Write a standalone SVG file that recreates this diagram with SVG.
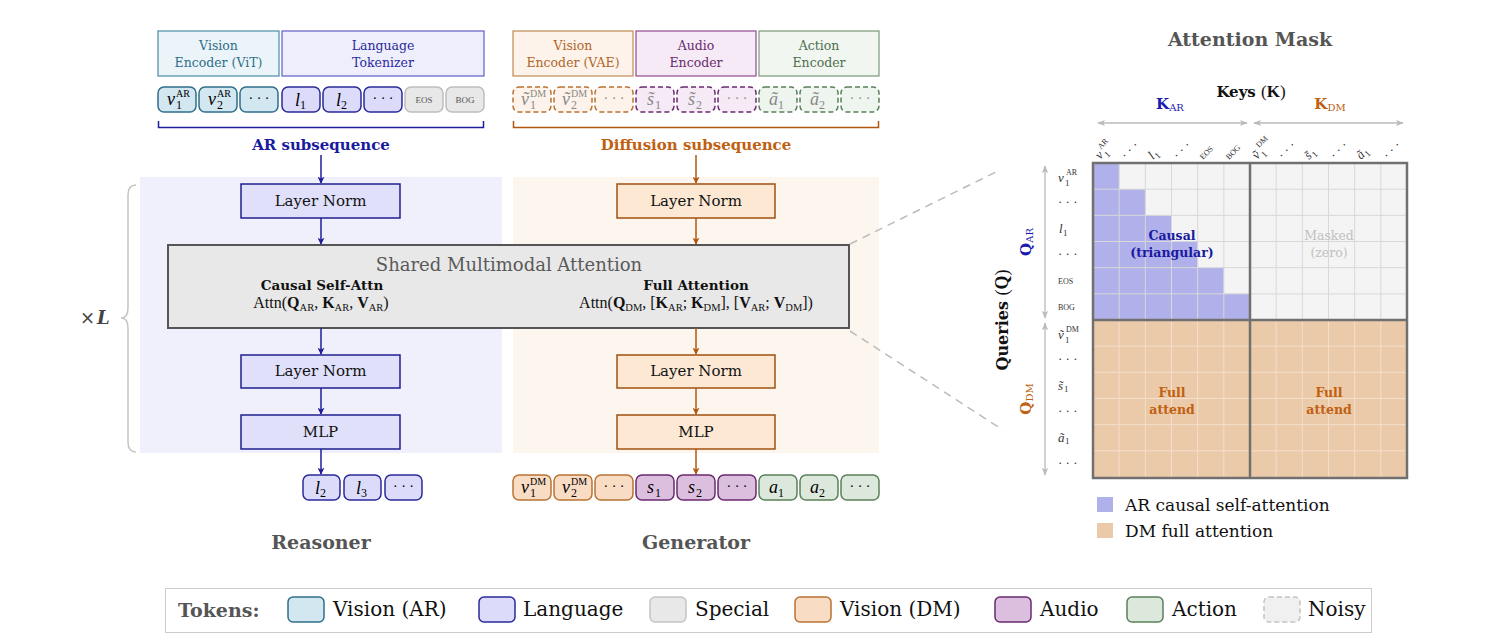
<svg xmlns="http://www.w3.org/2000/svg" width="1485" height="642" viewBox="0 0 1485 642">
<defs>
<style>
text{font-family:"DejaVu Serif","Liberation Serif",serif;}
.enc{font-size:12.5px;text-anchor:middle;}
.tk{stroke-width:1.5;}
.mi{font-family:"Liberation Serif",serif;font-style:italic;font-size:18px;}
.sup{font-family:"Liberation Serif",serif;font-size:10px;}
.sub{font-family:"Liberation Serif",serif;font-size:12px;}
.dots{font-family:"Liberation Serif",serif;font-size:14px;text-anchor:middle;}
.spec{font-family:"Liberation Serif",serif;font-size:9px;text-anchor:middle;fill:#555;}
.box{font-size:15px;text-anchor:middle;fill:#111;}
.ttl{font-size:19px;font-weight:bold;fill:#555;text-anchor:middle;}
.lg{font-size:20px;fill:#111;}
.rl{font-family:"Liberation Serif",serif;font-size:13px;fill:#333;}
.rls{font-family:"Liberation Serif",serif;font-size:8px;fill:#333;}
.rlsub{font-family:"Liberation Serif",serif;font-size:9px;fill:#333;}
.frm{font-family:"Liberation Serif",serif;font-size:16px;fill:#111;text-anchor:middle;}
.frm .s{font-size:10.5px;}
.grid{stroke:#d8d8d8;stroke-width:1;fill:none;}
.gridb{stroke:#f3dfcb;stroke-width:1;fill:none;}
</style>
<marker id="ab" viewBox="0 0 10 10" refX="9" refY="5" markerWidth="7" markerHeight="7" markerUnits="userSpaceOnUse" orient="auto"><path d="M0,0 L10,5 L0,10 L2.5,5 z" fill="#1f1f9a"/></marker>
<marker id="ao" viewBox="0 0 10 10" refX="9" refY="5" markerWidth="7" markerHeight="7" markerUnits="userSpaceOnUse" orient="auto"><path d="M0,0 L10,5 L0,10 L2.5,5 z" fill="#b0580f"/></marker>
<marker id="ag" viewBox="0 0 10 10" refX="9" refY="5" markerWidth="8" markerHeight="8" markerUnits="userSpaceOnUse" orient="auto-start-reverse"><path d="M0,1 L10,5 L0,9 L2.5,5 z" fill="#bbb"/></marker>
</defs>
<rect width="1485" height="642" fill="#fff"/>

<!-- panels -->
<g id="panels">
<rect x="140" y="177" width="362" height="276" fill="#f0f0fd"/>
<rect x="513" y="177" width="366" height="276" fill="#fdf6ee"/>
</g>

<!-- encoders -->
<g id="enc-vit"><rect x="158" y="31" width="121" height="45" fill="#ebf4f8" stroke="#4b8ca5" stroke-width="1.2"/><text class="enc" x="218.5" y="50" fill="#2f6f8a">Vision</text><text class="enc" x="218.5" y="67" fill="#2f6f8a">Encoder (ViT)</text></g>
<g id="enc-lang"><rect x="282" y="31" width="202" height="45" fill="#eeeefc" stroke="#6060c8" stroke-width="1.2"/><text class="enc" x="383" y="50" fill="#2a2a9a">Language</text><text class="enc" x="383" y="67" fill="#2a2a9a">Tokenizer</text></g>
<g id="enc-vae"><rect x="513" y="31" width="120" height="45" fill="#fdf3ea" stroke="#c08a50" stroke-width="1.2"/><text class="enc" x="573" y="50" fill="#b0662a">Vision</text><text class="enc" x="573" y="67" fill="#b0662a">Encoder (VAE)</text></g>
<g id="enc-audio"><rect x="636" y="31" width="120" height="45" fill="#f5eaf5" stroke="#904a90" stroke-width="1.2"/><text class="enc" x="696" y="50" fill="#6a2a6f">Audio</text><text class="enc" x="696" y="67" fill="#6a2a6f">Encoder</text></g>
<g id="enc-action"><rect x="759" y="31" width="120" height="45" fill="#f1f6f1" stroke="#7a9a7a" stroke-width="1.2"/><text class="enc" x="819" y="50" fill="#4f6f4f">Action</text><text class="enc" x="819" y="67" fill="#4f6f4f">Encoder</text></g>

<!-- AR input tokens -->
<g id="ar-tokens">
<rect class="tk" x="158" y="87" width="38" height="25" rx="6" fill="#d3e7f0" stroke="#2f6f8a"/>
<text class="mi" x="167" y="105">v</text><text class="sup" x="176" y="97">AR</text><text class="sub" x="176" y="109">1</text>
<rect class="tk" x="199" y="87" width="38" height="25" rx="6" fill="#d3e7f0" stroke="#2f6f8a"/>
<text class="mi" x="208" y="105">v</text><text class="sup" x="217" y="97">AR</text><text class="sub" x="217" y="109">2</text>
<rect class="tk" x="240" y="87" width="38" height="25" rx="6" fill="#d3e7f0" stroke="#2f6f8a"/>
<text class="dots" x="259" y="103">· · ·</text>
<rect class="tk" x="282" y="87" width="38" height="25" rx="6" fill="#dcdcfa" stroke="#2a2a9a"/>
<text class="mi" x="295" y="106">l</text><text class="sub" x="300" y="109">1</text>
<rect class="tk" x="323" y="87" width="38" height="25" rx="6" fill="#dcdcfa" stroke="#2a2a9a"/>
<text class="mi" x="336" y="106">l</text><text class="sub" x="341" y="109">2</text>
<rect class="tk" x="364" y="87" width="38" height="25" rx="6" fill="#dcdcfa" stroke="#2a2a9a"/>
<text class="dots" x="383" y="103">· · ·</text>
<rect class="tk" x="405" y="87" width="38" height="25" rx="6" fill="#e8e8e8" stroke="#bdbdbd"/>
<text class="spec" x="424" y="103">EOS</text>
<rect class="tk" x="446" y="87" width="38" height="25" rx="6" fill="#e8e8e8" stroke="#bdbdbd"/>
<text class="spec" x="465" y="103">BOG</text>
</g>

<!-- DM input tokens (noisy) -->
<g id="dm-tokens" stroke-dasharray="5 3">
<rect class="tk" x="513" y="87" width="38" height="25" rx="6" fill="#fdf3ea" stroke="#b87333"/>
<rect class="tk" x="554" y="87" width="38" height="25" rx="6" fill="#fdf3ea" stroke="#b87333"/>
<rect class="tk" x="595" y="87" width="38" height="25" rx="6" fill="#fdf3ea" stroke="#b87333"/>
<rect class="tk" x="636" y="87" width="38" height="25" rx="6" fill="#f5eaf5" stroke="#6a2a6f"/>
<rect class="tk" x="677" y="87" width="38" height="25" rx="6" fill="#f5eaf5" stroke="#6a2a6f"/>
<rect class="tk" x="718" y="87" width="38" height="25" rx="6" fill="#f5eaf5" stroke="#6a2a6f"/>
<rect class="tk" x="759" y="87" width="38" height="25" rx="6" fill="#eef4ee" stroke="#5a805a"/>
<rect class="tk" x="800" y="87" width="38" height="25" rx="6" fill="#eef4ee" stroke="#5a805a"/>
<rect class="tk" x="841" y="87" width="38" height="25" rx="6" fill="#eef4ee" stroke="#5a805a"/>
</g>
<g id="dm-token-labels" fill="#888">
<text class="mi" x="521" y="105">ṽ</text><text class="sup" x="530" y="97">DM</text><text class="sub" x="530" y="109">1</text>
<text class="mi" x="562" y="105">ṽ</text><text class="sup" x="571" y="97">DM</text><text class="sub" x="571" y="109">2</text>
<text class="dots" x="614" y="103">· · ·</text>
<text class="mi" x="647" y="105">s̃</text><text class="sub" x="655" y="109">1</text>
<text class="mi" x="688" y="105">s̃</text><text class="sub" x="696" y="109">2</text>
<text class="dots" x="737" y="103">· · ·</text>
<text class="mi" x="769" y="105">ã</text><text class="sub" x="778" y="109">1</text>
<text class="mi" x="810" y="105">ã</text><text class="sub" x="819" y="109">2</text>
<text class="dots" x="860" y="103">· · ·</text>
</g>

<!-- subsequence brackets -->
<g id="ar-sub">
<path d="M158.5,121 V127.5 H483.5 V121" fill="none" stroke="#1f1f9a" stroke-width="1.5"/>
<text x="321" y="150" font-size="15" font-weight="bold" fill="#1a1aa0" text-anchor="middle">AR subsequence</text>
</g>
<g id="dm-sub">
<path d="M513.5,121 V127.5 H878.5 V121" fill="none" stroke="#b0580f" stroke-width="1.5"/>
<text x="696" y="150" font-size="15" font-weight="bold" fill="#c06010" text-anchor="middle">Diffusion subsequence</text>
</g>

<!-- blocks -->
<g id="ln1-ar"><rect x="241" y="184" width="159" height="34" fill="#e0e0fa" stroke="#1f1f8f" stroke-width="1.5"/><text class="box" x="320.5" y="206">Layer Norm</text></g>
<g id="ln1-dm"><rect x="617" y="184" width="158" height="34" fill="#fde8d4" stroke="#a0500f" stroke-width="1.5"/><text class="box" x="696" y="206">Layer Norm</text></g>
<g id="ln2-ar"><rect x="241" y="355" width="159" height="33" fill="#e0e0fa" stroke="#1f1f8f" stroke-width="1.5"/><text class="box" x="320.5" y="376">Layer Norm</text></g>
<g id="ln2-dm"><rect x="617" y="355" width="158" height="33" fill="#fde8d4" stroke="#a0500f" stroke-width="1.5"/><text class="box" x="696" y="376">Layer Norm</text></g>
<g id="mlp-ar"><rect x="241" y="415" width="159" height="34" fill="#e0e0fa" stroke="#1f1f8f" stroke-width="1.5"/><text class="box" x="320.5" y="437">MLP</text></g>
<g id="mlp-dm"><rect x="617" y="415" width="158" height="34" fill="#fde8d4" stroke="#a0500f" stroke-width="1.5"/><text class="box" x="696" y="437">MLP</text></g>

<g id="shared-attn">
<rect x="168" y="245" width="681" height="83" fill="#e8e8e8" stroke="#555" stroke-width="2"/>
<text x="509" y="271" font-size="18" fill="#5a5a5a" text-anchor="middle">Shared Multimodal Attention</text>
<text x="322" y="290" font-size="13.5" font-weight="bold" fill="#111" text-anchor="middle">Causal Self-Attn</text>
<text class="frm" x="321" y="308">Attn(<tspan font-weight="bold">Q</tspan><tspan class="s" dy="3">AR</tspan><tspan dy="-3">, </tspan><tspan font-weight="bold">K</tspan><tspan class="s" dy="3">AR</tspan><tspan dy="-3">, </tspan><tspan font-weight="bold">V</tspan><tspan class="s" dy="3">AR</tspan><tspan dy="-3">)</tspan></text>
<text x="696" y="290" font-size="13.5" font-weight="bold" fill="#111" text-anchor="middle">Full Attention</text>
<text class="frm" x="696" y="308">Attn(<tspan font-weight="bold">Q</tspan><tspan class="s" dy="3">DM</tspan><tspan dy="-3">, [</tspan><tspan font-weight="bold">K</tspan><tspan class="s" dy="3">AR</tspan><tspan dy="-3">; </tspan><tspan font-weight="bold">K</tspan><tspan class="s" dy="3">DM</tspan><tspan dy="-3">], [</tspan><tspan font-weight="bold">V</tspan><tspan class="s" dy="3">AR</tspan><tspan dy="-3">; </tspan><tspan font-weight="bold">V</tspan><tspan class="s" dy="3">DM</tspan><tspan dy="-3">])</tspan></text>
</g>

<!-- output tokens -->
<g id="ar-out">
<rect class="tk" x="303" y="475" width="37" height="25" rx="6" fill="#dcdcfa" stroke="#2a2a9a"/>
<text class="mi" x="315" y="494">l</text><text class="sub" x="320" y="497">2</text>
<rect class="tk" x="344" y="475" width="37" height="25" rx="6" fill="#dcdcfa" stroke="#2a2a9a"/>
<text class="mi" x="356" y="494">l</text><text class="sub" x="361" y="497">3</text>
<rect class="tk" x="385" y="475" width="37" height="25" rx="6" fill="#dcdcfa" stroke="#2a2a9a"/>
<text class="dots" x="403.5" y="491">· · ·</text>
</g>
<g id="dm-out">
<rect class="tk" x="513" y="475" width="38" height="25" rx="6" fill="#f9dcc4" stroke="#b87333"/>
<text class="mi" x="521" y="493">v</text><text class="sup" x="530" y="485">DM</text><text class="sub" x="530" y="497">1</text>
<rect class="tk" x="554" y="475" width="38" height="25" rx="6" fill="#f9dcc4" stroke="#b87333"/>
<text class="mi" x="562" y="493">v</text><text class="sup" x="571" y="485">DM</text><text class="sub" x="571" y="497">2</text>
<rect class="tk" x="595" y="475" width="38" height="25" rx="6" fill="#f9dcc4" stroke="#b87333"/>
<text class="dots" x="614" y="491">· · ·</text>
<rect class="tk" x="636" y="475" width="38" height="25" rx="6" fill="#dcbfdf" stroke="#6a2a6f"/>
<text class="mi" x="647" y="493">s</text><text class="sub" x="655" y="497">1</text>
<rect class="tk" x="677" y="475" width="38" height="25" rx="6" fill="#dcbfdf" stroke="#6a2a6f"/>
<text class="mi" x="688" y="493">s</text><text class="sub" x="696" y="497">2</text>
<rect class="tk" x="718" y="475" width="38" height="25" rx="6" fill="#dcbfdf" stroke="#6a2a6f"/>
<text class="dots" x="737" y="491">· · ·</text>
<rect class="tk" x="759" y="475" width="38" height="25" rx="6" fill="#dce8dc" stroke="#5a805a"/>
<text class="mi" x="769" y="493">a</text><text class="sub" x="778" y="497">1</text>
<rect class="tk" x="800" y="475" width="38" height="25" rx="6" fill="#dce8dc" stroke="#5a805a"/>
<text class="mi" x="810" y="493">a</text><text class="sub" x="819" y="497">2</text>
<rect class="tk" x="841" y="475" width="38" height="25" rx="6" fill="#dce8dc" stroke="#5a805a"/>
<text class="dots" x="860" y="491">· · ·</text>
</g>

<!-- connectors -->
<g id="connectors" fill="none" stroke-width="1.5">
<g stroke="#1f1f9a" marker-end="url(#ab)">
<path d="M321,155 V183"/><path d="M321,218 V244"/><path d="M321,328 V354"/><path d="M321,388 V414"/><path d="M321,449 V474"/>
</g>
<g stroke="#b0580f" marker-end="url(#ao)">
<path d="M696,155 V183"/><path d="M696,218 V244"/><path d="M696,328 V354"/><path d="M696,388 V414"/><path d="M696,449 V474"/>
</g>
<g stroke="#bbb" stroke-dasharray="8 6">
<path d="M850,244 L1000,170"/><path d="M850,331 L1003,430"/>
</g>
</g>

<!-- repeat brace -->
<g id="repeat">
<path d="M136,185 Q128,185 128,195 V308 Q128,318 121,318 Q128,318 128,328 V442 Q128,452 136,452" fill="none" stroke="#c4c4c4" stroke-width="1.5"/>
<text x="80" y="324" font-family="Liberation Serif,serif" font-size="18" fill="#444">×<tspan font-weight="bold" font-style="italic" dx="2">L</tspan></text>
</g>

<g id="labels">
<text class="ttl" x="321" y="549">Reasoner</text>
<text class="ttl" x="696" y="549">Generator</text>
</g>

<!-- Attention mask -->
<g id="attention-mask">
<text class="ttl" x="1250" y="46">Attention Mask</text>
<text x="1251" y="97" font-size="15" fill="#111" text-anchor="middle"><tspan font-weight="bold">Keys </tspan><tspan font-family="Liberation Serif,serif" font-size="17">(</tspan><tspan font-family="Liberation Serif,serif" font-size="17" font-weight="bold">K</tspan><tspan font-family="Liberation Serif,serif" font-size="17">)</tspan></text>
<text x="1170" y="109" font-family="Liberation Serif,serif" fill="#1a1ab0" text-anchor="middle"><tspan font-size="15" font-weight="bold">K</tspan><tspan font-size="10" dy="2">AR</tspan></text>
<text x="1330" y="109" font-family="Liberation Serif,serif" fill="#c06010" text-anchor="middle"><tspan font-size="15" font-weight="bold">K</tspan><tspan font-size="10" dy="2">DM</tspan></text>
<path d="M1098,123 H1247" stroke="#bbb" stroke-width="1.3" marker-start="url(#ag)" marker-end="url(#ag)"/>
<path d="M1254,123 H1403" stroke="#bbb" stroke-width="1.3" marker-start="url(#ag)" marker-end="url(#ag)"/>
<path d="M1045,166 V318" stroke="#bbb" stroke-width="1.3" marker-start="url(#ag)" marker-end="url(#ag)"/>
<path d="M1045,323 V475" stroke="#bbb" stroke-width="1.3" marker-start="url(#ag)" marker-end="url(#ag)"/>

<text transform="translate(1008,320) rotate(-90)" font-size="16" font-weight="bold" fill="#111" text-anchor="middle">Queries <tspan font-family="Liberation Serif,serif" font-size="18" font-weight="normal">(<tspan font-weight="bold">Q</tspan>)</tspan></text>
<text transform="translate(1031,242) rotate(-90)" font-family="Liberation Serif,serif" fill="#1a1ab0" text-anchor="middle"><tspan font-size="15" font-weight="bold">Q</tspan><tspan font-size="10" dy="2">AR</tspan></text>
<text transform="translate(1031,399) rotate(-90)" font-family="Liberation Serif,serif" fill="#c06010" text-anchor="middle"><tspan font-size="15" font-weight="bold">Q</tspan><tspan font-size="10" dy="2">DM</tspan></text>

<!-- row labels -->
<text class="rl" font-style="italic" x="1058" y="182">v</text><text class="rls" x="1066" y="175">AR</text><text class="rlsub" x="1065" y="186">1</text>
<text class="rl" x="1058" y="206">· · ·</text>
<text class="rl" font-style="italic" x="1059" y="233">l</text><text class="rlsub" x="1063" y="236">1</text>
<text class="rl" x="1058" y="258">· · ·</text>
<text class="rls" x="1058" y="284">EOS</text>
<text class="rls" x="1058" y="310">BOG</text>
<text class="rl" font-style="italic" x="1058" y="339">ṽ</text><text class="rls" x="1066" y="332">DM</text><text class="rlsub" x="1065" y="343">1</text>
<text class="rl" x="1058" y="363">· · ·</text>
<text class="rl" font-style="italic" x="1058" y="390">s̃</text><text class="rlsub" x="1064" y="392">1</text>
<text class="rl" x="1058" y="415">· · ·</text>
<text class="rl" font-style="italic" x="1058" y="442">ã</text><text class="rlsub" x="1065" y="444">1</text>
<text class="rl" x="1058" y="467">· · ·</text>

<!-- column labels -->
<g transform="translate(1100,160) rotate(-45)"><text class="rl" font-style="italic" x="0" y="0">v</text><text class="rls" x="8" y="-7">AR</text><text class="rlsub" x="7" y="4">1</text></g>
<g transform="translate(1126,160) rotate(-45)"><text class="rl" x="0" y="0">· · ·</text></g>
<g transform="translate(1153,160) rotate(-45)"><text class="rl" font-style="italic" x="0" y="0">l</text><text class="rlsub" x="4" y="3">1</text></g>
<g transform="translate(1178,160) rotate(-45)"><text class="rl" x="0" y="0">· · ·</text></g>
<g transform="translate(1203,160) rotate(-45)"><text class="rls" x="0" y="0">EOS</text></g>
<g transform="translate(1229,160) rotate(-45)"><text class="rls" x="0" y="0">BOG</text></g>
<g transform="translate(1257,160) rotate(-45)"><text class="rl" font-style="italic" x="0" y="0">ṽ</text><text class="rls" x="10" y="-7">DM</text><text class="rlsub" x="7" y="4">1</text></g>
<g transform="translate(1283,160) rotate(-45)"><text class="rl" x="0" y="0">· · ·</text></g>
<g transform="translate(1309,160) rotate(-45)"><text class="rl" font-style="italic" x="0" y="0">s̃</text><text class="rlsub" x="6" y="3">1</text></g>
<g transform="translate(1335,160) rotate(-45)"><text class="rl" x="0" y="0">· · ·</text></g>
<g transform="translate(1361,160) rotate(-45)"><text class="rl" font-style="italic" x="0" y="0">ã</text><text class="rlsub" x="7" y="3">1</text></g>
<g transform="translate(1388,160) rotate(-45)"><text class="rl" x="0" y="0">· · ·</text></g>

<!-- matrix -->
<rect x="1093" y="163" width="314" height="157" fill="#f4f4f4"/>
<polygon points="1093,163 1119.17,163 1119.17,189.17 1145.33,189.17 1145.33,215.33 1171.5,215.33 1171.5,241.5 1197.67,241.5 1197.67,267.67 1223.83,267.67 1223.83,293.83 1250,293.83 1250,320 1093,320" fill="#b0b0ea"/>
<rect x="1093" y="320" width="314" height="158" fill="#ebcaa9"/>
<path class="grid" d="M1119.17,163V320M1145.33,163V320M1171.5,163V320M1197.67,163V320M1223.83,163V320M1276.17,163V320M1302.33,163V320M1328.5,163V320M1354.67,163V320M1380.83,163V320M1093,189.17H1407M1093,215.33H1407M1093,241.5H1407M1093,267.67H1407M1093,293.83H1407"/>
<path class="gridb" d="M1119.17,320V478M1145.33,320V478M1171.5,320V478M1197.67,320V478M1223.83,320V478M1276.17,320V478M1302.33,320V478M1328.5,320V478M1354.67,320V478M1380.83,320V478M1093,346.17H1407M1093,372.33H1407M1093,398.5H1407M1093,424.67H1407M1093,450.83H1407"/>
<rect x="1093" y="163" width="314" height="315" fill="none" stroke="#707070" stroke-width="2.5"/>
<path d="M1250,163V478M1093,320H1407" stroke="#707070" stroke-width="2.5"/>

<text x="1172" y="240" font-size="12.5" font-weight="bold" fill="#1a1aa0" text-anchor="middle">Causal</text>
<text x="1172" y="257" font-size="12.5" font-weight="bold" fill="#1a1aa0" text-anchor="middle">(triangular)</text>
<text x="1329" y="240" font-size="12.5" fill="#c0c0c0" text-anchor="middle">Masked</text>
<text x="1329" y="257" font-size="12.5" fill="#c0c0c0" text-anchor="middle">(zero)</text>
<text x="1172" y="397" font-size="12.5" font-weight="bold" fill="#c06010" text-anchor="middle">Full</text>
<text x="1172" y="414" font-size="12.5" font-weight="bold" fill="#c06010" text-anchor="middle">attend</text>
<text x="1329" y="397" font-size="12.5" font-weight="bold" fill="#c06010" text-anchor="middle">Full</text>
<text x="1329" y="414" font-size="12.5" font-weight="bold" fill="#c06010" text-anchor="middle">attend</text>
</g>

<g id="mask-legend">
<rect x="1097" y="497" width="16" height="15" fill="#b0b0ea"/>
<text x="1125" y="511" font-size="17" fill="#111">AR causal self-attention</text>
<rect x="1097" y="523" width="16" height="15" fill="#ebcaa9"/>
<text x="1125" y="537" font-size="17" fill="#111">DM full attention</text>
</g>

<!-- token legend -->
<g id="token-legend">
<rect x="165.5" y="588.5" width="1206" height="44" fill="#fff" stroke="#ccc" stroke-width="1"/>
<text x="178" y="617" font-size="19" font-weight="bold" fill="#555">Tokens:</text>
<rect class="tk" x="288" y="597" width="36" height="25" rx="5" fill="#d3e7f0" stroke="#2f6f8a"/>
<text class="lg" x="333" y="616">Vision (AR)</text>
<rect class="tk" x="479" y="597" width="36" height="25" rx="5" fill="#dcdcfa" stroke="#2a2a9a"/>
<text class="lg" x="523" y="616">Language</text>
<rect class="tk" x="650" y="597" width="36" height="25" rx="5" fill="#e8e8e8" stroke="#c4c4c4"/>
<text class="lg" x="695" y="616">Special</text>
<rect class="tk" x="795" y="597" width="36" height="25" rx="5" fill="#f9dcc4" stroke="#b87333"/>
<text class="lg" x="840" y="616">Vision (DM)</text>
<rect class="tk" x="995" y="597" width="36" height="25" rx="5" fill="#dcbfdf" stroke="#6a2a6f"/>
<text class="lg" x="1040" y="616">Audio</text>
<rect class="tk" x="1127" y="597" width="36" height="25" rx="5" fill="#dce8dc" stroke="#5a805a"/>
<text class="lg" x="1172" y="616">Action</text>
<rect class="tk" x="1264" y="597" width="36" height="25" rx="5" fill="#f0f0f0" stroke="#c4c4c4" stroke-dasharray="5 3"/>
<text class="lg" x="1308" y="616">Noisy</text>
</g>
</svg>
